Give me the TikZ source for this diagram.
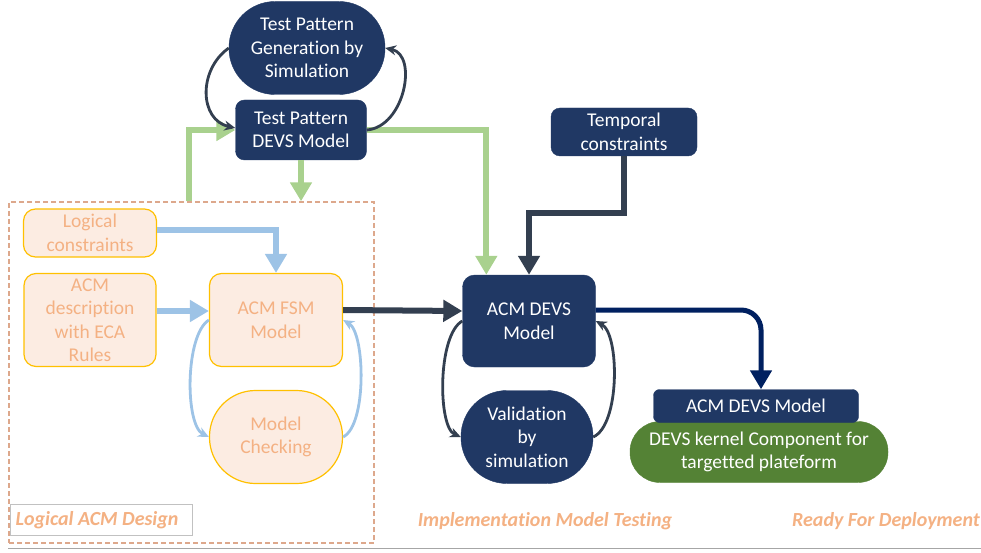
\documentclass[tikz,border=0pt]{standalone}
\usepackage{fontspec}
\setmainfont{Carlito}[Ligatures=NoCommon]
\usetikzlibrary{arrows.meta}

\definecolor{navy}{HTML}{203864}
\definecolor{darkslate}{HTML}{333F50}
\definecolor{deepblue}{HTML}{002060}
\definecolor{leafgreen}{HTML}{A9D18E}
\definecolor{skyblue}{HTML}{9DC3E6}
\definecolor{peach}{HTML}{FCECE2}
\definecolor{peachtext}{HTML}{F4B183}
\definecolor{amber}{HTML}{FFC000}
\definecolor{kernelgreen}{HTML}{548235}
\definecolor{framebrown}{HTML}{DDA88C}
\definecolor{rulegray}{HTML}{A6A6A6}

\tikzset{
  boxtext/.style={inner sep=0pt, align=center, font=\fontsize{19.5}{23.5}\selectfont},
  navybox/.style={boxtext, fill=navy, draw=navy, text=white, rounded corners=9pt},
  navypill/.style={navybox, rounded corners=46pt},
  peachbox/.style={boxtext, fill=peach, draw=amber, line width=1.2pt, text=peachtext, rounded corners=12pt},
  peachpill/.style={peachbox, rounded corners=46pt},
  blockarrow/.style={line width=6pt, line join=miter, -{Triangle[width=21pt,length=19pt]}},
  greenflow/.style={blockarrow, draw=leafgreen},
  blueflow/.style={blockarrow, draw=skyblue},
  darkflow/.style={blockarrow, draw=darkslate},
  loopback/.style={line width=2.8pt, -{Stealth[length=11pt,width=10pt]}},
  phaselabel/.style={font=\fontsize{20}{24}\selectfont\bfseries\itshape, text=peachtext, inner sep=0pt}
}

\begin{document}
\begin{tikzpicture}[x=1pt,y=-1pt]
  \useasboundingbox (0,0) rectangle (981,553);

  % design-phase frame
  \node[draw=framebrown, dash pattern=on 5pt off 3pt, line width=1.4pt, minimum width=365pt, minimum height=341pt, inner sep=0pt] (frame) at (191.5,372.5) {};
  \node[draw=rulegray!70, fill=white, line width=0.8pt, minimum width=182pt, minimum height=31pt, inner sep=0pt] (framebox) at (101,520) {};
  \node[phaselabel] (designlabel) at (97,520) {Logical ACM Design};

  % test pattern generation
  \node[navypill, minimum width=156pt, minimum height=93pt] (gen) at (307,48) {Test Pattern\\Generation by\\Simulation};
  \node[navybox, minimum width=131pt, minimum height=60pt] (tpd) at (301,130) {Test Pattern\\DEVS Model};
  \node[navybox, minimum width=146pt, minimum height=48pt] (tc) at (624,132) {Temporal\\constraints};

  % logical design
  \node[peachbox, minimum width=133pt, minimum height=48pt] (lc) at (90,233) {Logical\\constraints};
  \node[peachbox, minimum width=132pt, minimum height=93pt] (desc) at (90,320) {ACM\\description\\with ECA\\Rules};
  \node[peachbox, minimum width=133pt, minimum height=93pt] (fsm) at (276,320) {ACM FSM\\Model};
  \node[peachpill, minimum width=133pt, minimum height=93pt] (mc) at (276,437) {Model\\Checking};

  % implementation testing
  \node[navybox, rounded corners=12pt, minimum width=133pt, minimum height=92pt] (acm) at (529,321) {ACM DEVS\\Model};
  \node[navypill, minimum width=132pt, minimum height=93pt] (val) at (527,437) {Validation\\by\\simulation};

  % deployment
  \node[boxtext, fill=kernelgreen, draw=kernelgreen, text=white, rounded corners=30pt, minimum width=258pt, minimum height=61pt] (kernel) at (759,452) {DEVS kernel Component for\\targetted plateform};
  \node[navybox, rounded corners=6pt, minimum width=205pt, minimum height=33pt] (rdevs) at (756,406) {ACM DEVS Model};

  % phase captions
  \node[phaselabel] (testlabel) at (545,521) {Implementation Model Testing};
  \node[phaselabel] (deploylabel) at (886,521) {Ready For Deployment};
  \draw[rulegray, line width=1pt] (frame.south west |- 0,548) -- (981,548);

  % flows
  \draw[greenflow] (tpd.east) -| ([xshift=24pt]acm.north west);
  \draw[greenflow] ([xshift=181pt]frame.north west) |- (tpd.west);
  \draw[greenflow] (tpd.south) -- (tpd.south |- frame.north);
  \draw[blueflow] ([yshift=3pt]lc.east) -| (fsm.north);
  \draw[blueflow] ([yshift=9pt]desc.east) -- ([yshift=9pt]fsm.west);
  \draw[darkflow] ([yshift=10pt]fsm.east) -- ([yshift=10pt]acm.west);
  \draw[darkflow] (tc.south) -- ++(0,57) -| (acm.north);
  \draw[blockarrow, draw=deepblue, line width=5pt, rounded corners=20pt] ([yshift=11pt]acm.east) -| ([xshift=5pt]rdevs.north);

  % simulation loops
  \draw[loopback, darkslate] (gen.west) .. controls +(-31,22) and +(-36,-8) .. ([yshift=2pt]tpd.west);
  \draw[loopback, darkslate] (tpd.east) .. controls +(38,-3) and +(33,7) .. (gen.east);
  \draw[loopback, skyblue] (fsm.west) .. controls +(-24,15) and +(-24,-12) .. (mc.west);
  \draw[loopback, skyblue] (mc.east) .. controls +(24,-12) and +(22,13) .. (fsm.east);
  \draw[loopback, darkslate] (acm.west) .. controls +(-25,14) and +(-23,-10) .. (val.west);
  \draw[loopback, darkslate] (val.east) .. controls +(27,-12) and +(24,13) .. (acm.east);
\end{tikzpicture}
\end{document}
